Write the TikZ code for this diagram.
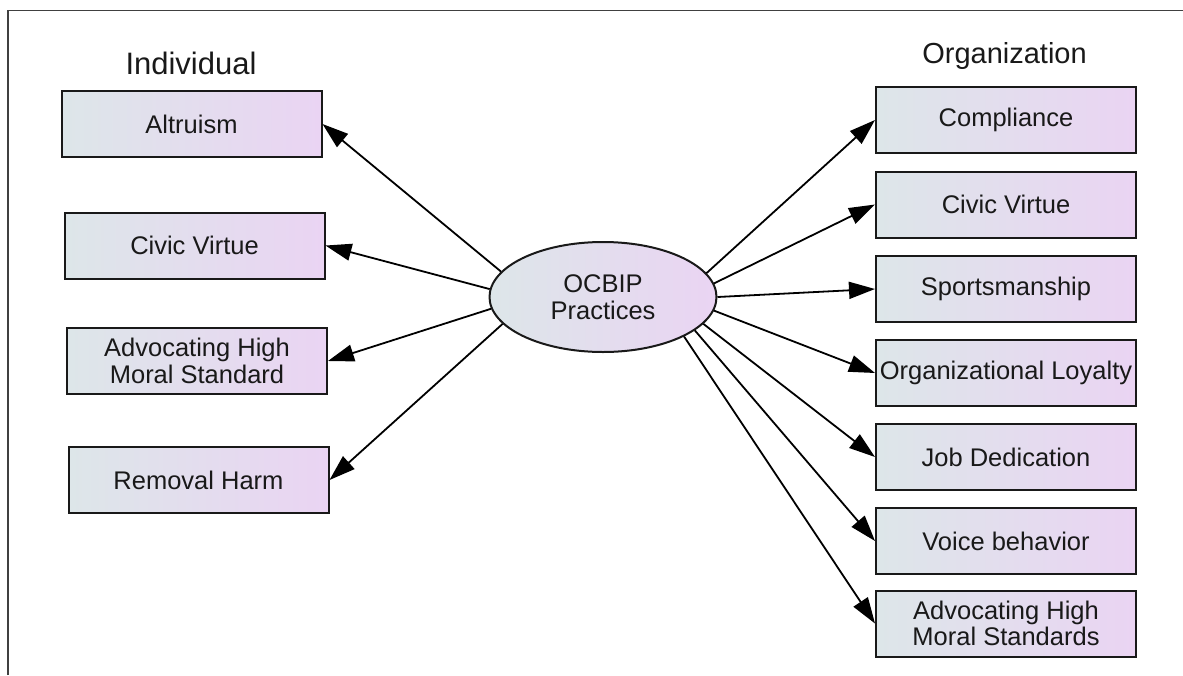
\documentclass[tikz,border=0pt]{standalone}
\usepackage{fontspec}
\setmainfont{Liberation Sans}
\usetikzlibrary{shapes.geometric,arrows.meta}
\definecolor{lc}{RGB}{221,230,233}
\definecolor{rc}{RGB}{234,212,243}
\definecolor{txt}{RGB}{25,25,25}
\begin{document}
\begin{tikzpicture}[x=1pt,y=-1pt,
  box/.style={draw=black!90, line width=2pt, minimum width=260pt, minimum height=66pt,
    inner sep=0pt, left color=lc, right color=rc, align=center, text=txt,
    font=\fontsize{25.5}{26.5}\selectfont},
  hub/.style={ellipse, draw=black!90, line width=2pt, minimum width=227pt, minimum height=110pt,
    inner sep=0pt, left color=lc, right color=rc, align=center, text=txt,
    font=\fontsize{25.5}{27}\selectfont},
  title/.style={text=txt, inner sep=0pt},
  arr/.style={line width=1.8pt, -{Triangle[length=26pt,width=17pt]}},
  frame/.style={line width=1.5pt, draw=black!75}]
\useasboundingbox (0,0) rectangle (1183,675);
\draw[frame] (8,675) -- (8,10.5) -- (1183,10.5);

\node[title, font=\fontsize{31}{33}\selectfont] (tind) at (191,63) {Individual};
\node[title, font=\fontsize{29}{31}\selectfont] (torg) at (1004.5,56) {Organization};

\node[hub] (e) at (603,297) {OCBIP\\Practices};

\node[box] (l1) at (191.5,124) {Altruism};
\node[box] (l2) at (194.5,245.5) {Civic Virtue};
\node[box] (l3) at (197,361) {Advocating High\\Moral Standard};
\node[box] (l4) at (198.5,480) {Removal Harm};

\node[box] (r1) at (1006,120) {Compliance};
\node[box] (r2) at (1006,204.5) {Civic Virtue};
\node[box] (r3) at (1006,289) {Sportsmanship};
\node[box] (r4) at (1006,373) {Organizational Loyalty};
\node[box] (r5) at (1006,457) {Job Dedication};
\node[box] (r6) at (1006,541) {Voice behavior};
\node[box] (r7) at (1006,623.5) {Advocating High\\Moral Standards};

\draw[arr] (e.166.9) -- (l1.east);
\draw[arr] (e.176.4) -- (l2.east);
\draw[arr] (e.186.7) -- (l3.east);
\draw[arr] (e.195.5) -- (l4.east);

\draw[arr] (e.13) -- (r1.west);
\draw[arr] (e.7.3) -- (r2.west);
\draw[arr] (e.0) -- (r3.west);
\draw[arr] (e.-7.6) -- (r4.west);
\draw[arr] (e.-15) -- (r5.west);
\draw[arr] (e.-20.4) -- (r6.west);
\draw[arr] (e.-26.3) -- (r7.west);
\end{tikzpicture}
\end{document}
